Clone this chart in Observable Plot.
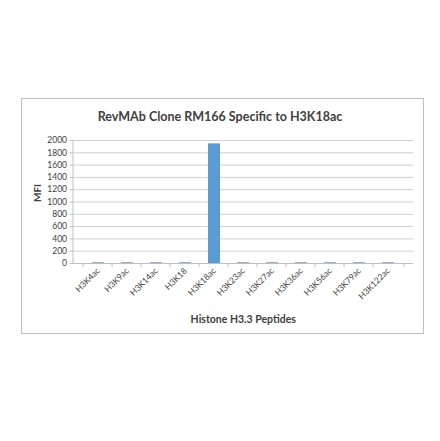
<!DOCTYPE html>
<html>
<head>
<meta charset="utf-8">
<script src="https://cdn.jsdelivr.net/npm/d3@7"></script>
<script src="https://cdn.jsdelivr.net/npm/@observablehq/plot@0.6"></script>
<style>
  html, body { margin: 0; padding: 0; background: #fff; }
  #wrap { position: relative; width: 440px; height: 441px; overflow: hidden; font-family: Lato, "Open Sans", sans-serif; }
  #box { position: absolute; left: 21px; top: 98px; width: 403px; height: 236px; border: 1px solid #c0c0c0; box-sizing: border-box; }
  #title { position: absolute; left: 0; width: 440px; top: 109px; text-align: center; font-weight: bold; font-size: 12.5px; color: #404040; }
  #chart { position: absolute; left: 0; top: 0; }
</style>
</head>
<body>
<div id="wrap">
  <div id="box"></div>
  <div id="title">RevMAb Clone RM166 Specific to H3K18ac</div>
  <div id="chart"></div>
</div>
<script>
const peptides = ["H3K4ac","H3K9ac","H3K14ac","H3K18","H3K18ac","H3K23ac","H3K27ac","H3K36ac","H3K56ac","H3K79ac","H3K122ac"];
const mfi = [12, 12, 12, 12, 1945, 12, 12, 12, 12, 12, 12];
const yTicks = [0,200,400,600,800,1000,1200,1400,1600,1800,2000];

const data = peptides.map((p, i) => ({peptide: p, value: mfi[i]}));

const W = 440, H = 441;
const mL = 72.5, mR = 27, mT = 140, mB = 441 - 263;
const bw = (W - mL - mR) / peptides.length;

const chart = Plot.plot({
  width: W,
  height: H,
  marginLeft: mL,
  marginRight: mR,
  marginTop: mT,
  marginBottom: mB,
  style: {fontFamily: "Lato, 'Open Sans', sans-serif", background: "transparent", color: "#404040"},
  x: {domain: peptides, padding: 0.58, label: null},
  y: {domain: [0, 2000], label: null},
  marks: [
    Plot.gridY(yTicks, {stroke: "#d0d0d0", strokeOpacity: 1, strokeWidth: 1}),
    Plot.barY(data, {x: "peptide", y: "value", fill: "#5b9bd5"}),
    Plot.ruleY([0], {stroke: "#bfbfbf"}),
    Plot.frame({anchor: "left", stroke: "#bfbfbf"}),
    Plot.axisY(yTicks, {tickSize: 3, tickPadding: 3, stroke: "#bfbfbf", fill: "#404040", fontSize: 8.5, tickFormat: d3.format("d"), label: null}),
    Plot.axisX({tickSize: 4, text: null, stroke: "#bfbfbf", dx: -bw / 2, label: null}),
    Plot.axisX([peptides[peptides.length - 1]], {tickSize: 4, text: null, stroke: "#bfbfbf", dx: bw / 2, label: null}),
    Plot.axisX({tickSize: 0, tickPadding: 6, tickRotate: -45, textAnchor: "end", fontSize: 8.5, fill: "#404040", label: null}),
    Plot.text(["Histone H3.3 Peptides"], {frameAnchor: "bottom", dy: 59, fontWeight: "bold", fontSize: 10.5, fill: "#404040"}),
    Plot.text(["MFI"], {frameAnchor: "left", dx: -35, rotate: -90, fontWeight: "bold", fontSize: 10, fill: "#404040"})
  ]
});
document.getElementById("chart").appendChild(chart);
</script>
</body>
</html>
